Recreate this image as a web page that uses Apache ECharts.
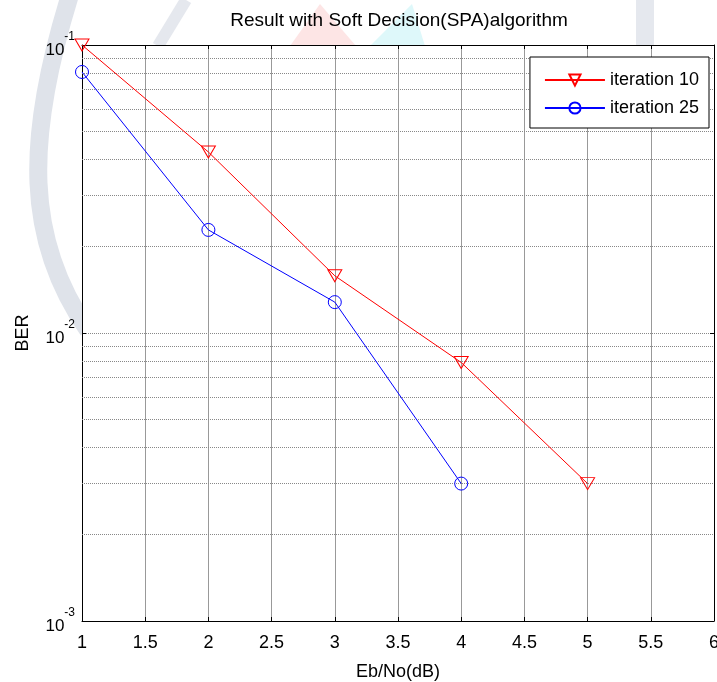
<!DOCTYPE html>
<html>
<head>
<meta charset="utf-8">
<script src="https://cdn.jsdelivr.net/npm/echarts@6/dist/echarts.min.js"></script>
<style>
  html, body { margin: 0; padding: 0; background: #fff; }
  #main { width: 717px; height: 682px; }
</style>
</head>
<body>
<div id="main"></div>
<script>
'use strict';

// Eb/No (dB) values
const ebno10 = [1, 2, 3, 4, 5];
const ebno25 = [1, 2, 3, 4];
// BER
const ber10 = [0.1, 0.0425, 0.0158, 0.0079, 0.003];
const ber25 = [0.0806, 0.0228, 0.0128, 0.003];

const xTicks = [1, 1.5, 2, 2.5, 3, 3.5, 4, 4.5, 5, 5.5, 6];
const decades = [0.001, 0.01, 0.1];
const minorMult = [2, 3, 4, 5, 6, 7, 8, 9];

const FONT = 'Liberation Sans';
const X_MIN = 1, X_MAX = 6;

// minor log grid lines (2..9 x 10^k), drawn as line segments across the plot
let minorGrid = [];
decades.slice(0, 2).forEach(function (d) {
    minorMult.forEach(function (m) {
        let v = +(d * m).toPrecision(3);
        minorGrid.push([{ coord: [X_MIN, v] }, { coord: [X_MAX, v] }]);
    });
});

const supLabel = function (v) {
    const e = Math.round(Math.log10(v));
    return '{b|10}{s|' + e + '}';
};

window.onload = function () {
    let chart = echarts.init(document.getElementById('main'));

    let options = {
        animation: false,
        backgroundColor: '#fff',
        textStyle: { fontFamily: FONT },
        // faint watermark shapes behind the figure
        graphic: [
            { type: 'bezierCurve', z: -10, silent: true,
              shape: { x1: 70, y1: -5, cpx1: 25, cpy1: 140, cpx2: 25, cpy2: 240, x2: 88, y2: 330 },
              style: { stroke: '#dfe3ea', lineWidth: 18, fill: null } },
            { type: 'polygon', z: -10, silent: true,
              shape: { points: [[290, 46], [320, 4], [356, 46]] },
              style: { fill: '#fde5e5' } },
            { type: 'polygon', z: -10, silent: true,
              shape: { points: [[370, 46], [412, 4], [425, 46]] },
              style: { fill: '#def8fa' } },
            { type: 'rect', z: -10, silent: true,
              shape: { x: 636, y: 0, width: 18, height: 46 },
              style: { fill: '#e5e8ee' } },
            { type: 'line', z: -10, silent: true,
              shape: { x1: 158, y1: 46, x2: 186, y2: 0 },
              style: { stroke: '#e5e8ee', lineWidth: 12 } }
        ],
        title: {
            text: 'Result with Soft Decision(SPA)algorithm',
            left: 394,
            top: 6,
            textAlign: 'center',
            textStyle: { fontFamily: FONT, fontSize: 19, fontWeight: 'normal', color: '#000' }
        },
        legend: {
            right: 8,
            top: 57,
            orient: 'vertical',
            backgroundColor: '#fff',
            borderColor: '#000',
            borderWidth: 1,
            borderRadius: 0,
            padding: [14, 10, 11, 14],
            itemGap: 10,
            itemWidth: 60,
            itemHeight: 14,
            textStyle: { fontFamily: FONT, fontSize: 18, color: '#000' },
            data: ['iteration 10', 'iteration 25']
        },
        grid: { left: 82, top: 45, right: 3, bottom: 61, outerBoundsMode: 'none', containLabel: false,
            show: true, backgroundColor: '#fff', borderWidth: 0 },
        xAxis: [{
            type: 'value',
            min: X_MIN,
            max: X_MAX,
            interval: 0.5,
            name: 'Eb/No(dB)',
            nameLocation: 'middle',
            nameGap: 42,
            nameTextStyle: { fontFamily: FONT, fontSize: 18, color: '#000' },
            axisLine: { show: true, onZero: false, lineStyle: { color: '#000', width: 1 } },
            axisTick: { inside: true, length: 4, lineStyle: { color: '#000' } },
            axisLabel: { fontFamily: FONT, fontSize: 18, color: '#000', margin: 13,
                formatter: function (v) { return xTicks.indexOf(v) >= 0 ? String(v) : ''; } },
            splitLine: { show: true, lineStyle: { color: '#999', width: 1 } }
        }, {
            type: 'value',
            position: 'top',
            min: X_MIN,
            max: X_MAX,
            interval: 0.5,
            axisLine: { show: true, onZero: false, lineStyle: { color: '#000', width: 1 } },
            axisTick: { inside: true, length: 4, lineStyle: { color: '#000' } },
            axisLabel: { show: false },
            splitLine: { show: false }
        }],
        yAxis: [{
            type: 'log',
            logBase: 10,
            min: 0.001,
            max: 0.1,
            name: 'BER',
            nameLocation: 'middle',
            nameGap: 50,
            nameRotate: 90,
            nameTextStyle: { fontFamily: FONT, fontSize: 18, color: '#000' },
            axisLine: { show: true, onZero: false, lineStyle: { color: '#000', width: 1 } },
            axisTick: { inside: true, length: 4, lineStyle: { color: '#000' } },
            axisLabel: {
                margin: 7,
                formatter: supLabel,
                rich: {
                    b: { fontFamily: FONT, fontSize: 17, color: '#000', verticalAlign: 'bottom' },
                    s: { fontFamily: FONT, fontSize: 12, color: '#000', verticalAlign: 'bottom', padding: [0, 0, 16, 0] }
                }
            },
            splitLine: { show: true, lineStyle: { color: '#888', type: [1, 1], width: 1 } }
        }, {
            type: 'log',
            logBase: 10,
            min: 0.001,
            max: 0.1,
            position: 'right',
            axisLine: { show: true, onZero: false, lineStyle: { color: '#000', width: 1 } },
            axisTick: { inside: true, length: 4, lineStyle: { color: '#000' } },
            axisLabel: { show: false },
            splitLine: { show: false }
        }],
        series: [{
            name: 'iteration 10',
            type: 'line',
            data: ebno10.map(function (x, i) { return [x, ber10[i]]; }),
            color: '#ff0000',
            symbol: 'triangle',
            symbolRotate: 180,
            symbolSize: [14, 12],
            showAllSymbol: true,
            clip: false,
            lineStyle: { color: '#ff0000', width: 1 },
            itemStyle: { color: 'rgba(255,255,255,0)', borderColor: '#ff0000', borderWidth: 1 },
            z: 3,
            markLine: {
                silent: true,
                symbol: 'none',
                label: { show: false },
                lineStyle: { color: '#888', type: [1, 1], width: 1 },
                z: 1,
                data: minorGrid
            }
        }, {
            name: 'iteration 25',
            type: 'line',
            data: ebno25.map(function (x, i) { return [x, ber25[i]]; }),
            color: '#0000ff',
            symbol: 'circle',
            symbolSize: 13,
            showAllSymbol: true,
            clip: false,
            lineStyle: { color: '#0000ff', width: 1 },
            itemStyle: { color: 'rgba(255,255,255,0)', borderColor: '#0000ff', borderWidth: 1 },
            z: 3
        }]
    };

    chart.setOption(options);
};
</script>
</body>
</html>
